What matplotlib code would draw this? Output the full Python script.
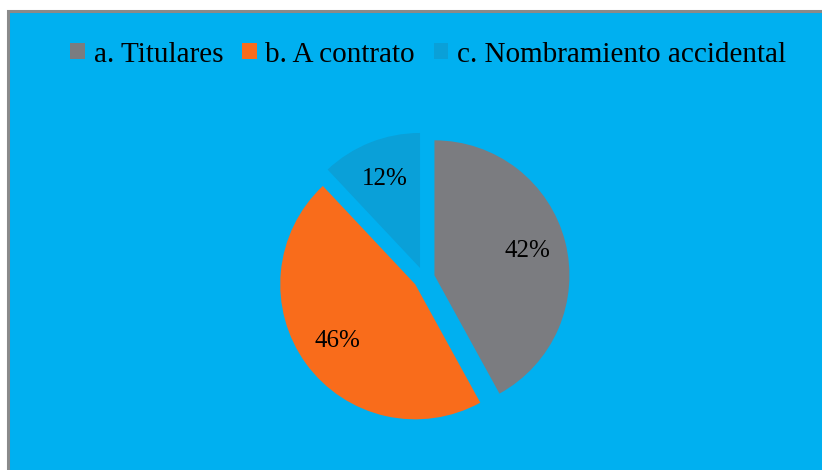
import matplotlib
matplotlib.use('Agg')
import matplotlib.pyplot as plt
from matplotlib.patches import Rectangle, Patch

plt.rcParams['font.family'] = ['Liberation Serif', 'DejaVu Serif']

# datos
categorias = ['a. Titulares', 'b. A contrato', 'c. Nombramiento accidental']
porcentajes = [42, 46, 12]
colores = ['#7b7c80', '#f96c1b', '#0aa0d8']

fig = plt.figure(figsize=(8.22, 4.70), dpi=100, facecolor='white')

# fondo azul con borde gris
fondo = Rectangle((8 / 822, -0.1), 1.1, (470 - 11) / 470 + 0.1,
                  transform=fig.transFigure, facecolor='#00b0f0',
                  edgecolor='#8a8a8a', linewidth=2.2, zorder=-1)
fig.patches.append(fondo)

# pastel
ax = fig.add_axes([0.3105, 0.0495, 0.4106, 0.718])
ax.set_facecolor('none')
wedges, texts, autotexts = ax.pie(porcentajes, colors=colores, startangle=90,
                                  counterclock=False, explode=[0.08] * 3,
                                  autopct='%1.0f%%', pctdistance=0.71,
                                  wedgeprops={'linewidth': 0},
                                  textprops={'fontsize': 18, 'color': 'black'})
ax.set_xlim(-1.25, 1.25)
ax.set_ylim(-1.25, 1.25)
ax.set_aspect('equal')
ax.axis('off')

# leyenda
handles = [Patch(facecolor=c, edgecolor='none') for c in colores]
fig.legend(handles, categorias, loc='center', bbox_to_anchor=(0.521, 0.884),
           ncol=3, frameon=False, fontsize=21, handlelength=0.5,
           handleheight=0.5, handletextpad=0.3, columnspacing=0.65,
           borderpad=0, borderaxespad=0)

plt.savefig('out.png', dpi=100, facecolor=fig.get_facecolor())
